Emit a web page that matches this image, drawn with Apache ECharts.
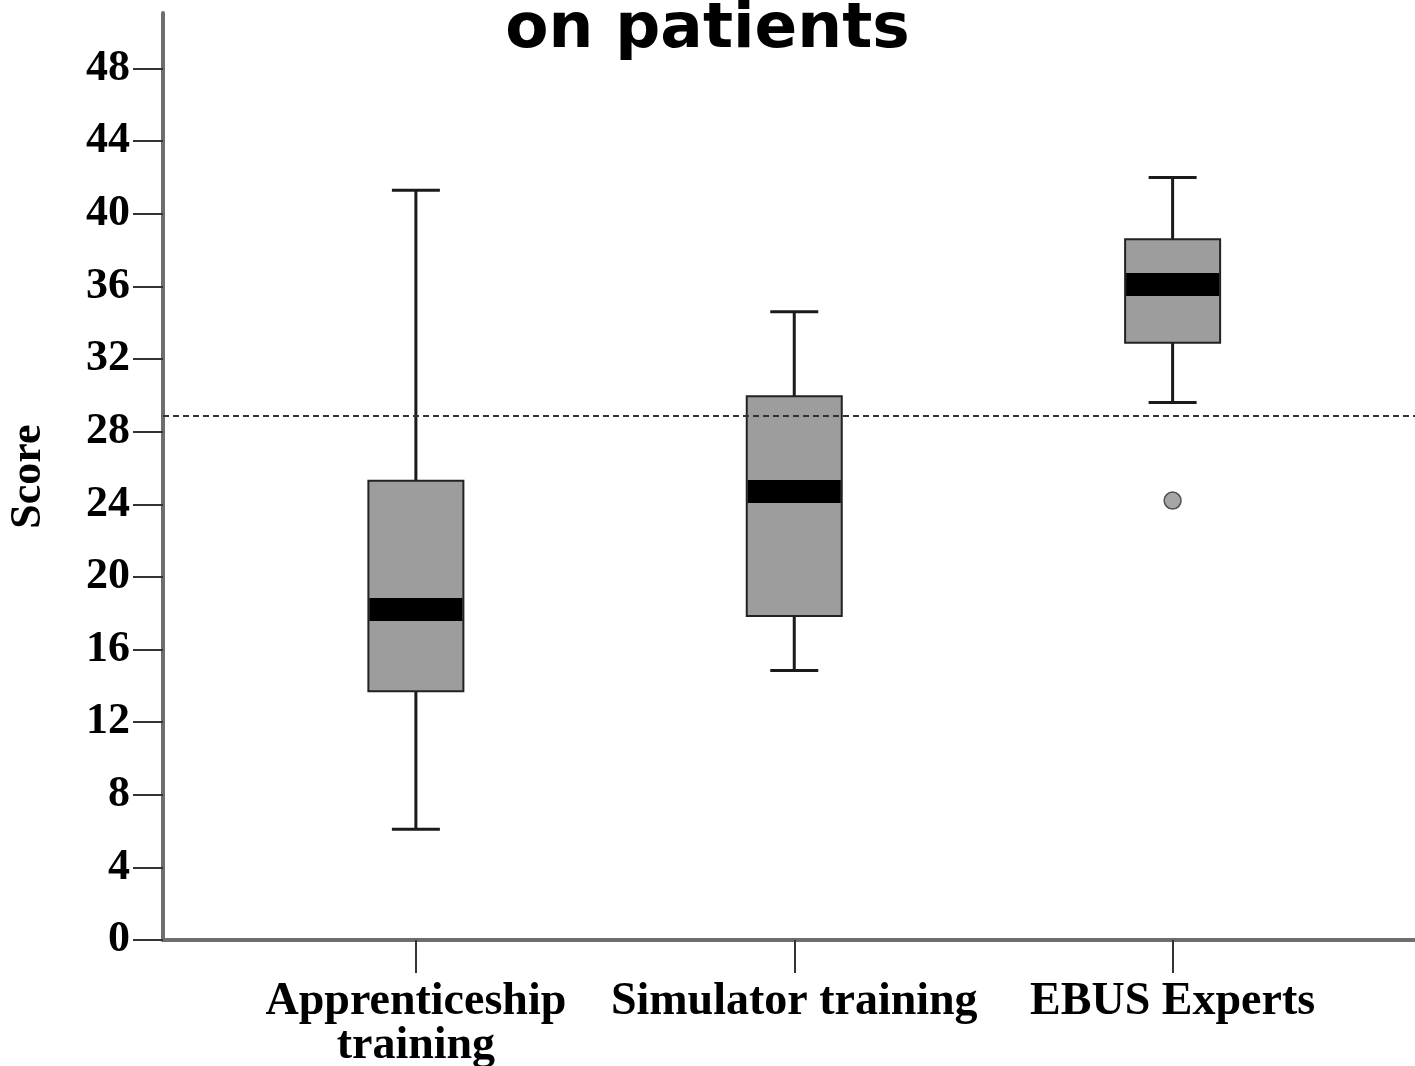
<!DOCTYPE html>
<html><head><meta charset="utf-8">
<script src="https://cdn.jsdelivr.net/npm/echarts@6/dist/echarts.min.js"></script>
<style>html,body{margin:0;padding:0;background:#fff}#c{width:1415px;height:1066px}</style>
</head><body><div id="c"></div>
<script>
const categories = ['Apprenticeship\ntraining', 'Simulator training', 'EBUS Experts'];
const lowerWhisker = [6.1, 14.85, 29.6];
const q1 = [13.7, 17.85, 32.9];
const median = [18.2, 24.7, 36.1];
const q3 = [25.3, 29.95, 38.6];
const upperWhisker = [41.3, 34.6, 42.0];
const outliers = [[2, 24.2]];
const cutoff = 28.85;
const yTicks = [0, 4, 8, 12, 16, 20, 24, 28, 32, 36, 40, 44, 48];

const boxData = categories.map((c, i) => [i, lowerWhisker[i], q1[i], median[i], q3[i], upperWhisker[i]]);

const chart = echarts.init(document.getElementById('c'));
const serif = '"Liberation Serif", "Times New Roman", serif';
const BOX_W = 95, CAP_W = 48, MED_H = 23;

chart.setOption({
  animation: false,
  title: {
    text: 'on patients', left: 'center', top: -6,
    textStyle: { fontFamily: '"DejaVu Sans", sans-serif', fontWeight: 'bold', fontSize: 63, color: '#000' }
  },
  grid: [
    { left: 163, right: 0, top: 13, bottom: 126, outerBoundsMode: 'none', containLabel: false },
    { left: 226.7, right: 53.2, top: 68.5, bottom: 126, outerBoundsMode: 'none', containLabel: false }
  ],
  xAxis: [
    { gridIndex: 0, type: 'value', min: 0, max: 1,
      axisLine: { show: true, lineStyle: { color: '#6e6e6e', width: 4 } },
      axisTick: { show: false }, axisLabel: { show: false }, splitLine: { show: false } },
    { gridIndex: 1, type: 'category', data: categories,
      axisLine: { show: false },
      axisTick: { show: true, interval: 0, alignWithLabel: true, length: 33, lineStyle: { color: '#333', width: 2 } },
      axisLabel: { interval: 0, margin: 40, fontFamily: serif, fontWeight: 'bold', fontSize: 46, lineHeight: 44, color: '#000' },
      splitLine: { show: false } }
  ],
  yAxis: [
    { gridIndex: 0, type: 'value', min: 0, max: 51.05,
      axisLine: { show: true, lineStyle: { color: '#6e6e6e', width: 4 } },
      axisTick: { show: false }, axisLabel: { show: false }, splitLine: { show: false },
      name: 'Score', nameLocation: 'middle', nameGap: 112, nameRotate: 90,
      nameTextStyle: { fontFamily: serif, fontWeight: 'bold', fontSize: 44, color: '#000' } },
    { gridIndex: 1, type: 'value', min: 0, max: 48, interval: 4, offset: 63.7,
      axisLine: { show: false },
      axisTick: { show: true, length: 30, lineStyle: { color: '#333', width: 2 } },
      axisLabel: { margin: 33, fontFamily: serif, fontWeight: 'bold', fontSize: 44, color: '#000',
        formatter: v => yTicks.includes(v) ? String(v) : '' },
      splitLine: { show: false } }
  ],
  series: [
    { type: 'line', xAxisIndex: 0, yAxisIndex: 0, data: [], silent: true,
      markLine: { silent: true, symbol: 'none', label: { show: false },
        lineStyle: { type: [6, 4], color: '#333', width: 2 },
        data: [{ yAxis: cutoff }] } },
    { type: 'custom', xAxisIndex: 1, yAxisIndex: 1, data: boxData,
      renderItem: function (params, api) {
        const x = api.value(0);
        const pLo = api.coord([x, api.value(1)]);
        const pQ1 = api.coord([x, api.value(2)]);
        const pMed = api.coord([x, api.value(3)]);
        const pQ3 = api.coord([x, api.value(4)]);
        const pHi = api.coord([x, api.value(5)]);
        const cx = pLo[0];
        const ls = { stroke: '#1a1a1a', lineWidth: 3 };
        return { type: 'group', children: [
          { type: 'line', shape: { x1: cx, y1: pHi[1], x2: cx, y2: pQ3[1] }, style: ls },
          { type: 'line', shape: { x1: cx, y1: pQ1[1], x2: cx, y2: pLo[1] }, style: ls },
          { type: 'line', shape: { x1: cx - CAP_W / 2, y1: pHi[1], x2: cx + CAP_W / 2, y2: pHi[1] }, style: ls },
          { type: 'line', shape: { x1: cx - CAP_W / 2, y1: pLo[1], x2: cx + CAP_W / 2, y2: pLo[1] }, style: ls },
          { type: 'rect', shape: { x: cx - BOX_W / 2, y: pQ3[1], width: BOX_W, height: pQ1[1] - pQ3[1] },
            style: { fill: '#9d9d9d', stroke: '#222', lineWidth: 2 } },
          { type: 'rect', shape: { x: cx - BOX_W / 2 + 1, y: pMed[1] - MED_H / 2, width: BOX_W - 2, height: MED_H },
            style: { fill: '#000' } }
        ] };
      } },
    { type: 'scatter', xAxisIndex: 1, yAxisIndex: 1, data: outliers, symbol: 'circle', symbolSize: 17,
      itemStyle: { color: '#8f8f8f', borderColor: '#333', borderWidth: 1.5 } }
  ]
});
</script></body></html>
